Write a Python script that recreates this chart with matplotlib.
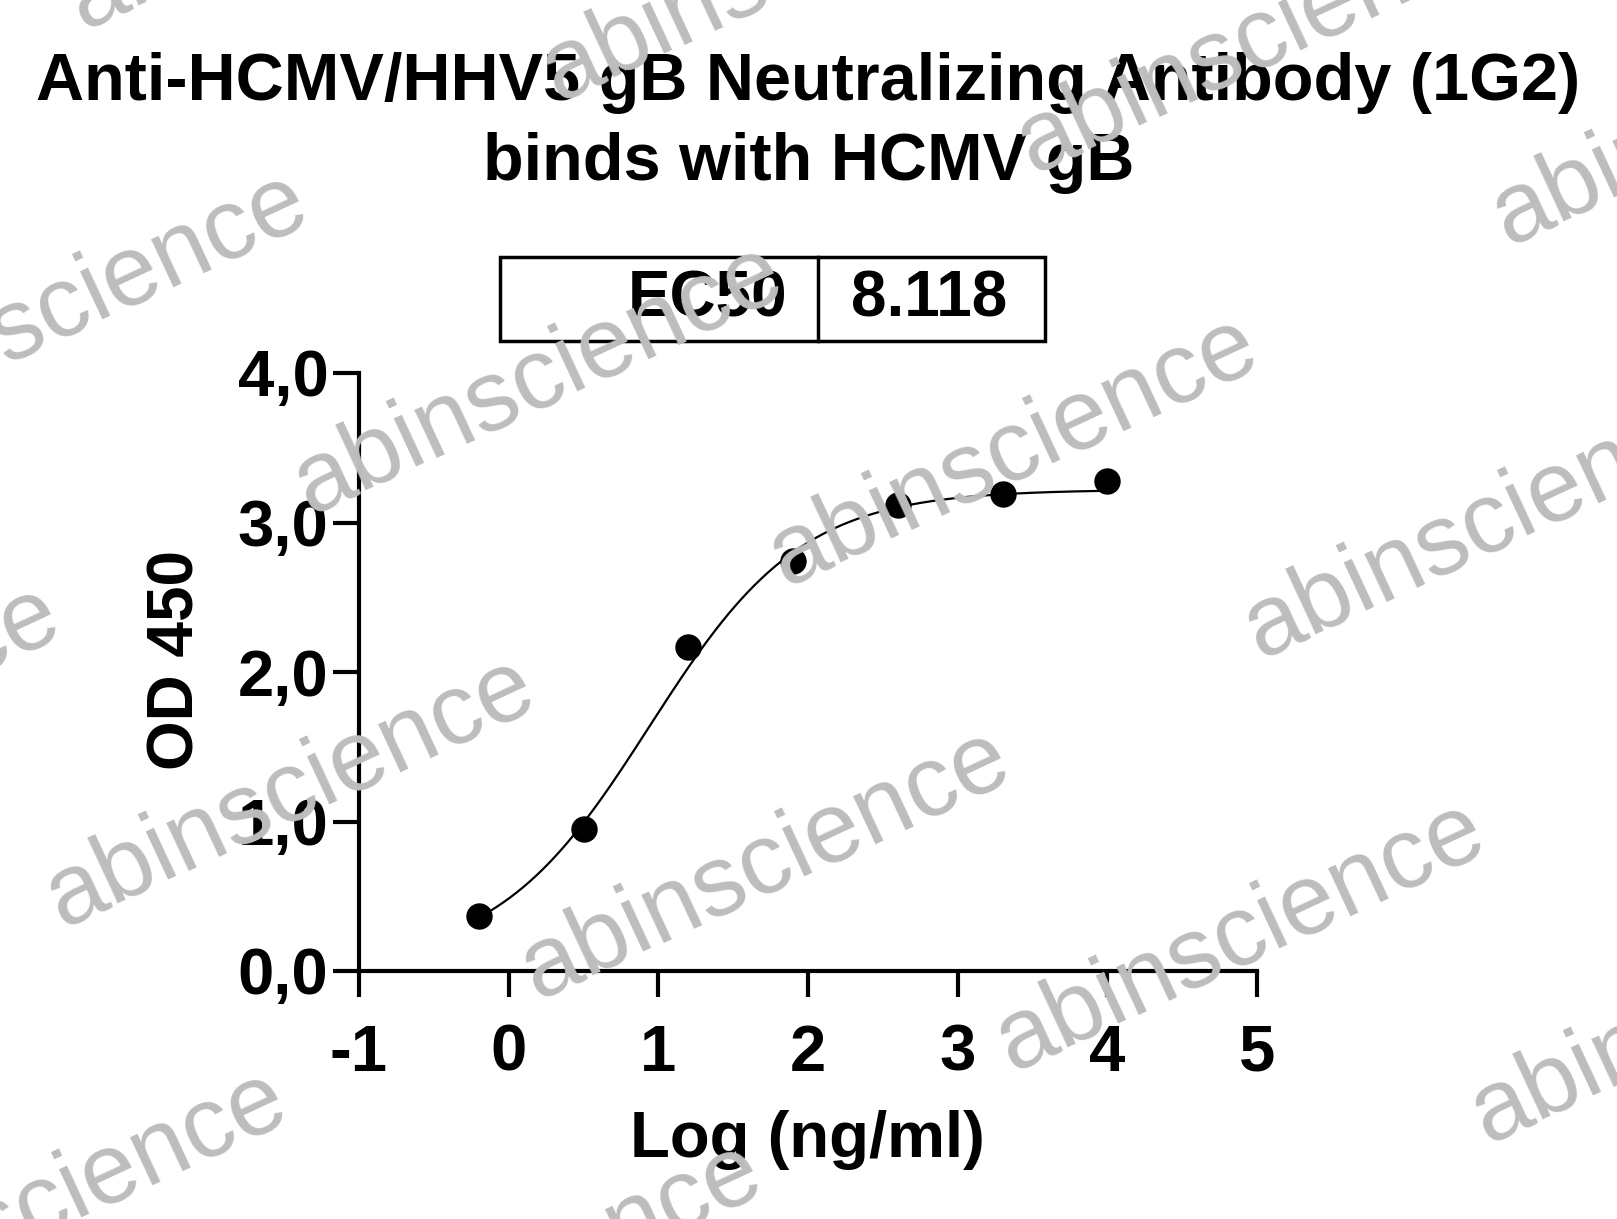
import numpy as np
import matplotlib
matplotlib.use('Agg')
import matplotlib.pyplot as plt
from matplotlib.patches import Rectangle
from matplotlib.lines import Line2D
from matplotlib.ticker import FuncFormatter

plt.rcParams['font.family'] = ['Liberation Sans', 'DejaVu Sans']
plt.rcParams['axes.unicode_minus'] = False

# data
log_conc = [-0.2, 0.5, 1.2, 1.9, 2.6, 3.3, 4.0]
od450 = [0.37, 0.95, 2.17, 2.74, 3.12, 3.19, 3.28]
ec50_label = '8.118'

# 4PL fit parameters (estimated from the drawn curve)
fit_bottom = 0.05
fit_top = 3.22
fit_logec50 = 0.94
fit_hill = 0.85

title1 = 'Anti-HCMV/HHV5 gB Neutralizing Antibody (1G2)'
title2 = 'binds with HCMV gB'
xticks = [-1, 0, 1, 2, 3, 4, 5]
yticks = [0, 1, 2, 3, 4]

W, H = 1617, 1219
fig = plt.figure(figsize=(W / 100, H / 100), dpi=100)

# axes box in pixels: x 359..1257, y 373..971
ax = fig.add_axes([359 / W, 1 - 971 / H, (1257 - 359) / W, (971 - 373) / H])

xs = np.linspace(min(log_conc), max(log_conc), 300)
ys = fit_bottom + (fit_top - fit_bottom) / (1 + 10 ** ((fit_logec50 - xs) * fit_hill))
ax.plot(xs, ys, color='black', lw=1.6, zorder=2)
ax.plot(log_conc, od450, 'o', color='black', ms=18, zorder=3)

ax.set_xlim(-1, 5)
ax.set_ylim(0, 4)
ax.set_xticks(xticks)
ax.set_yticks(yticks)
ax.yaxis.set_major_formatter(FuncFormatter(lambda v, p: f'{v:.1f}'.replace('.', ',')))
for s in ['top', 'right']:
    ax.spines[s].set_visible(False)
for s in ['left', 'bottom']:
    ax.spines[s].set_linewidth(3)
ax.tick_params(axis='both', width=3, length=19, labelsize=47)
ax.tick_params(axis='x', pad=19)
ax.tick_params(axis='y', pad=3)
for lab in ax.get_xticklabels() + ax.get_yticklabels():
    lab.set_fontweight('bold')
ax.patch.set_visible(False)

ax.set_xlabel('Log (ng/ml)', fontsize=47, fontweight='bold')
ax.xaxis.set_label_coords(0.499, -0.283)
ax.xaxis.label.set_va('center')
ax.set_ylabel('OD 450', fontsize=46, fontweight='bold')
ax.yaxis.set_label_coords(-0.203, 0.52)
ax.yaxis.label.set_va('center')

# title
fig.text(0.5, 1 - 83 / H, title1, ha='center', va='center', fontsize=48, fontweight='bold')
fig.text(0.5, 1 - 163 / H, title2, ha='center', va='center', fontsize=48, fontweight='bold')

# EC50 box
bx0, bx1, bdiv = 500 / W, 1045 / W, 818 / W
by0, by1 = 1 - 341 / H, 1 - 257 / H
fig.patches.append(Rectangle((bx0, by0), bx1 - bx0, by1 - by0, transform=fig.transFigure,
                             fill=False, lw=2.5, edgecolor='black'))
fig.lines.append(Line2D([bdiv, bdiv], [by0, by1], transform=fig.transFigure, lw=2.5, color='black'))
fig.text(787 / W, (by0 + by1) / 2, 'EC50', ha='right', va='center', fontsize=46, fontweight='bold')
fig.text(929 / W, (by0 + by1) / 2, ec50_label, ha='center', va='center', fontsize=46, fontweight='bold')

# watermark grid
ox, oy = 62, 928
for i in range(-3, 5):
    for j in range(-3, 5):
        px = ox + i * 475 + j * 248
        py = oy + i * 72 - j * 413
        if -700 < px < W + 50 and -50 < py < H + 500:
            fig.text(px / W, 1 - py / H, 'abinscience', rotation=25, rotation_mode='anchor',
                     ha='left', va='baseline', fontsize=72, color='#bdbdbd', zorder=10)

fig.savefig('out.png', dpi=100)
